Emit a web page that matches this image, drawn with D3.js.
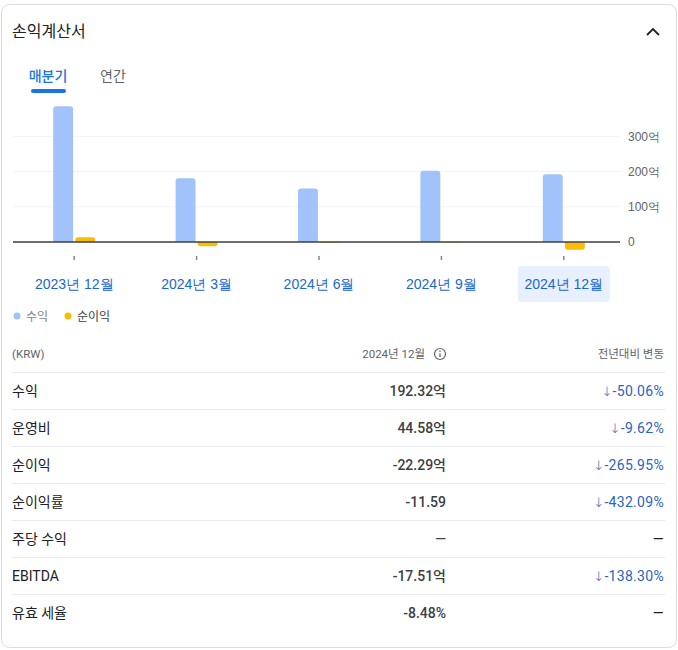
<!DOCTYPE html>
<html>
<head>
<meta charset="utf-8">
<script src="https://cdn.jsdelivr.net/npm/d3@7"></script>
<style>
  html, body { margin: 0; padding: 0; background: #fff; }
  svg { display: block; font-family: Roboto, "Noto Sans CJK KR", sans-serif; }
</style>
</head>
<body>
<svg width="678" height="650"></svg>
<script>
"use strict";

// chart data
const periods = ["2023년 12월", "2024년 3월", "2024년 6월", "2024년 9월", "2024년 12월"];
const revenue = [385.1, 181, 152, 202, 192.32];
const netIncome = [13.43, -12, -1.8, -1.5, -22.29];
const yTicks = [0, 100, 200, 300];
const seriesNames = ["수익", "순이익"];

// table data
const rowLabels = ["수익", "운영비", "순이익", "순이익률", "주당 수익", "EBITDA", "유효 세율"];
const rowValues = ["192.32억", "44.58억", "-22.29억", "-11.59", "—", "-17.51억", "-8.48%"];
const rowChanges = ["-50.06%", "-9.62%", "-265.95%", "-432.09%", "—", "-138.30%", "—"];

const svg = d3.select("svg");
const width = +svg.attr("width");

const blue = "#a1c2fa";
const yellow = "#fbbc04";
const linkBlue = "#1967d2";
const changeBlue = "#2a63c4";
const gray = "#5f6368";
const ink = "#202124";

// card
svg.append("rect")
  .attr("x", 1.5).attr("y", 4.5)
  .attr("width", width - 3).attr("height", 643)
  .attr("rx", 8)
  .attr("fill", "#fff")
  .attr("stroke", "#dadce0");

svg.append("text")
  .attr("x", 12).attr("y", 37)
  .attr("font-size", 16)
  .attr("fill", ink)
  .text("손익계산서");

svg.append("path")
  .attr("d", "M647,35 L653,29 L659,35")
  .attr("fill", "none")
  .attr("stroke", ink)
  .attr("stroke-width", 1.8);

// tabs
svg.append("text")
  .attr("x", 48).attr("y", 81)
  .attr("text-anchor", "middle")
  .attr("font-size", 14)
  .attr("font-weight", 500)
  .attr("fill", "#1a73e8")
  .text("매분기");

svg.append("rect")
  .attr("x", 31).attr("y", 89)
  .attr("width", 35).attr("height", 4)
  .attr("rx", 2)
  .attr("fill", "#1a73e8");

svg.append("text")
  .attr("x", 113).attr("y", 81)
  .attr("text-anchor", "middle")
  .attr("font-size", 14)
  .attr("fill", gray)
  .text("연간");

// chart scales
const xScale = d3.scaleBand()
  .domain(periods)
  .range([13, 625]);

const subScale = d3.scaleBand()
  .domain(seriesNames)
  .range([-21, 21])
  .paddingInner(0.1);

const yScale = d3.scaleLinear()
  .domain([0, 300])
  .range([242, 136.3]);

// gridlines + right-side labels
const yAxisG = svg.append("g")
  .attr("transform", `translate(620,0)`)
  .call(d3.axisRight(yScale)
    .tickValues(yTicks)
    .tickSize(0)
    .tickPadding(8)
    .tickFormat(d => d === 0 ? "0" : d + "억"));

yAxisG.select(".domain").remove();
yAxisG.selectAll("text")
  .attr("font-size", 12)
  .attr("font-family", null)
  .attr("fill", gray);

svg.append("g")
  .selectAll("line")
  .data(yTicks.filter(d => d !== 0))
  .enter()
  .append("line")
  .attr("x1", 13).attr("x2", 620)
  .attr("y1", d => yScale(d)).attr("y2", d => yScale(d))
  .attr("stroke", "#f1f3f4");

// rounded only at the far end of the bar
const barPath = (x, w, v) => {
  const y0 = yScale(0);
  const y1 = yScale(v);
  const h = Math.abs(y1 - y0);
  const r = Math.min(3, h / 2, w / 2);
  if (v >= 0) {
    return `M${x},${y0} V${y1 + r} Q${x},${y1} ${x + r},${y1} H${x + w - r} Q${x + w},${y1} ${x + w},${y1 + r} V${y0} Z`;
  }
  return `M${x},${y0} V${y1 - r} Q${x},${y1} ${x + r},${y1} H${x + w - r} Q${x + w},${y1} ${x + w},${y1 - r} V${y0} Z`;
};

const barData = periods.map((p, i) => [
  { period: p, series: "수익", value: revenue[i], color: blue },
  { period: p, series: "순이익", value: netIncome[i], color: yellow }
]).flat();

svg.append("g")
  .selectAll("path")
  .data(barData)
  .enter()
  .append("path")
  .attr("d", d => {
    const x = xScale(d.period) + xScale.bandwidth() / 2 + subScale(d.series);
    return barPath(x, subScale.bandwidth(), d.value);
  })
  .attr("fill", d => d.color);

// zero line
svg.append("line")
  .attr("x1", 13).attr("x2", 620)
  .attr("y1", yScale(0)).attr("y2", yScale(0))
  .attr("stroke", "#3c4043")
  .attr("stroke-width", 1.5);

// highlight for selected period
const selected = periods[periods.length - 1];
svg.append("rect")
  .attr("x", xScale(selected) + xScale.bandwidth() / 2 - 46)
  .attr("y", 266)
  .attr("width", 92).attr("height", 36)
  .attr("rx", 4)
  .attr("fill", "#e8f0fe");

const xAxisG = svg.append("g")
  .attr("transform", `translate(0,256)`)
  .call(d3.axisBottom(xScale).tickSize(4).tickPadding(19));

xAxisG.select(".domain").remove();
xAxisG.selectAll(".tick line")
  .attr("stroke", "#80868b")
  .attr("stroke-width", 1.5);
xAxisG.selectAll("text")
  .attr("font-size", 14)
  .attr("font-weight", 500)
  .attr("font-family", null)
  .attr("fill", linkBlue);

// legend
const legend = svg.append("g").attr("transform", "translate(0,316)");
const legendX = [17, 68];
const legendText = ["#80868b", "#3c4043"];
seriesNames.forEach((name, i) => {
  legend.append("circle")
    .attr("cx", legendX[i]).attr("cy", 0)
    .attr("r", 3.5)
    .attr("fill", i === 0 ? blue : yellow);
  legend.append("text")
    .attr("x", legendX[i] + 9).attr("y", 4.5)
    .attr("font-size", 12)
    .attr("fill", legendText[i])
    .text(name);
});

// table header
svg.append("text")
  .attr("x", 12).attr("y", 358)
  .attr("font-size", 11.5)
  .attr("fill", gray)
  .text("(KRW)");

svg.append("text")
  .attr("x", 425).attr("y", 358)
  .attr("text-anchor", "end")
  .attr("font-size", 11.5)
  .attr("fill", gray)
  .text("2024년 12월");

const info = svg.append("g").attr("transform", "translate(440,354)");
info.append("circle").attr("r", 5.5).attr("fill", "none").attr("stroke", gray).attr("stroke-width", 1.2);
info.append("line").attr("x1", 0).attr("x2", 0).attr("y1", -0.5).attr("y2", 3).attr("stroke", gray).attr("stroke-width", 1.3);
info.append("circle").attr("cx", 0).attr("cy", -2.7).attr("r", 0.8).attr("fill", gray);

svg.append("text")
  .attr("x", 664).attr("y", 358)
  .attr("text-anchor", "end")
  .attr("font-size", 11.5)
  .attr("fill", gray)
  .text("전년대비 변동");

// table rows
const rowScale = d3.scaleBand()
  .domain(rowLabels)
  .range([372.5, 372.5 + 37 * rowLabels.length]);

const rows = svg.append("g")
  .selectAll("g")
  .data(rowLabels)
  .enter()
  .append("g")
  .attr("transform", d => `translate(0,${rowScale(d)})`);

rows.append("line")
  .attr("x1", 12).attr("x2", 665)
  .attr("stroke", "#e8eaed");

rows.append("text")
  .attr("x", 12).attr("y", 23.5)
  .attr("font-size", 14)
  .attr("fill", ink)
  .text(d => d);

rows.append("text")
  .attr("x", 446).attr("y", 23.5)
  .attr("text-anchor", "end")
  .attr("font-size", 14)
  .attr("font-weight", 500)
  .attr("fill", "#3c4043")
  .text((d, i) => rowValues[i]);

const changeText = rows.append("text")
  .attr("x", 664).attr("y", 23.5)
  .attr("text-anchor", "end")
  .attr("font-size", 14)
  .attr("letter-spacing", 0.3)
  .attr("fill", (d, i) => rowChanges[i] === "—" ? ink : changeBlue);

changeText.filter((d, i) => rowChanges[i] !== "—")
  .append("tspan")
  .attr("font-size", 13)
  .attr("font-weight", 300)
  .attr("font-family", "DejaVu Sans")
  .text("↓");

changeText.append("tspan")
  .text((d, i) => rowChanges[i]);
</script>
</body>
</html>
